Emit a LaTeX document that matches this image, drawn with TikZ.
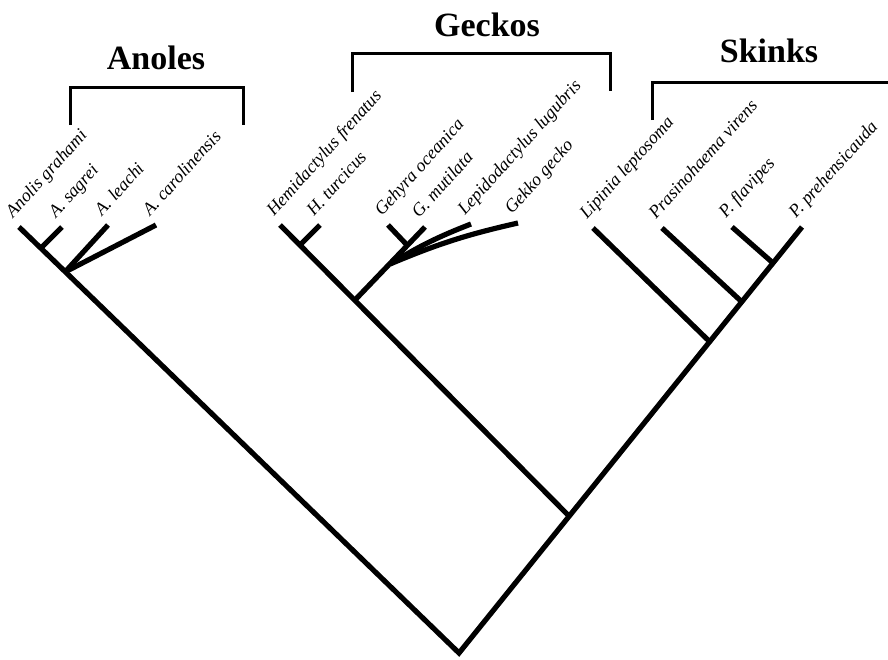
\documentclass[tikz,border=0pt]{standalone}
\usepackage{fontspec}
\setmainfont{Liberation Serif}
\usetikzlibrary{calc}
\begin{document}
\begin{tikzpicture}[x=1pt,y=-1pt,
  tree/.style={line width=5.2pt, line join=miter},
  brk/.style={line width=3pt, line join=miter},
  sp/.style={font=\fontsize{18}{18}\selectfont\itshape, rotate=48, anchor=base west, inner sep=0pt},
  ttl/.style={font=\fontsize{34}{34}\selectfont\bfseries, anchor=base, inner sep=0pt}]
\useasboundingbox (0,0) rectangle (888,659);
% coordinates
\coordinate (R) at (459,653);
\coordinate (AG) at (19,227);
\coordinate (AS) at (62,227);
\coordinate (ASj) at (41,248);
\coordinate (AL) at (108,225);
\coordinate (AC) at (156,225);
\coordinate (ALj) at (65,272);
\coordinate (PP) at (802,227);
\coordinate (GS) at (570,517);
\coordinate (HF) at (280,225);
\coordinate (HT) at (320,225);
\coordinate (HTj) at (300,245);
\coordinate (G1) at (355,300);
\coordinate (GM) at (425,227);
\coordinate (G2) at (390,264);
\coordinate (GO) at (388,225);
\coordinate (GOj) at (407,245);
\coordinate (LL) at (471,224);
\coordinate (GG) at (518,223);
\coordinate (SK) at (710,342);
\coordinate (LP) at (593,228);
\coordinate (PV) at (662,228);
\coordinate (PVj) at (742,302);
\coordinate (PF) at (732,227);
\coordinate (PFj) at (773,263);
% tree
\draw[tree] (AG) -- (R) -- (PP);
\draw[tree] (ASj) -- (AS);
\draw[tree] (ALj) -- (AL);
\draw[tree] (ALj) -- (AC);
\draw[tree] (GS) -- (HF);
\draw[tree] (HTj) -- (HT);
\draw[tree] (G1) -- (GM);
\draw[tree] (GOj) -- (GO);
\draw[tree] (G2) to[bend left=5] (LL);
\draw[tree] (G2) to[bend left=5] (GG);
\draw[tree] (SK) -- (LP);
\draw[tree] (PVj) -- (PV);
\draw[tree] (PFj) -- (PF);
% labels
\node[sp] (lAG) at ($(AG)+(-6,-8)$) {Anolis grahami};
\node[sp] (lAS) at ($(AS)+(-6,-8)$) {A. sagrei};
\node[sp] (lAL) at ($(AL)+(-6,-8)$) {A. leachi};
\node[sp] (lAC) at ($(AC)+(-6,-8)$) {A. carolinensis};
\node[sp] (lHF) at ($(HF)+(-6,-8)$) {Hemidactylus frenatus};
\node[sp] (lHT) at ($(HT)+(-6,-8)$) {H. turcicus};
\node[sp] (lGO) at ($(GO)+(-6,-8)$) {Gehyra oceanica};
\node[sp] (lGM) at ($(GM)+(-6,-8)$) {G. mutilata};
\node[sp] (lLL) at ($(LL)+(-6,-8)$) {Lepidodactylus lugubris};
\node[sp] (lGG) at ($(GG)+(-6,-8)$) {Gekko gecko};
\node[sp] (lLP) at ($(LP)+(-6,-8)$) {Lipinia leptosoma};
\node[sp] (lPV) at ($(PV)+(-6,-8)$) {Prasinohaema virens};
\node[sp] (lPF) at ($(PF)+(-6,-8)$) {P. flavipes};
\node[sp] (lPP) at ($(PP)+(-6,-8)$) {P. prehensicauda};
% brackets and titles
\draw[brk] (70,125) -- (70,87) -- (243,87) -- (243,125);
\draw[brk] (352,92) -- (352,53) -- (610,53) -- (610,91);
\draw[brk] (652,120) -- (652,82) -- (890,82);
\node[ttl] (tA) at (156,69) {Anoles};
\node[ttl] (tG) at (487,36) {Geckos};
\node[ttl] (tS) at (769,62) {Skinks};
\end{tikzpicture}
\end{document}
